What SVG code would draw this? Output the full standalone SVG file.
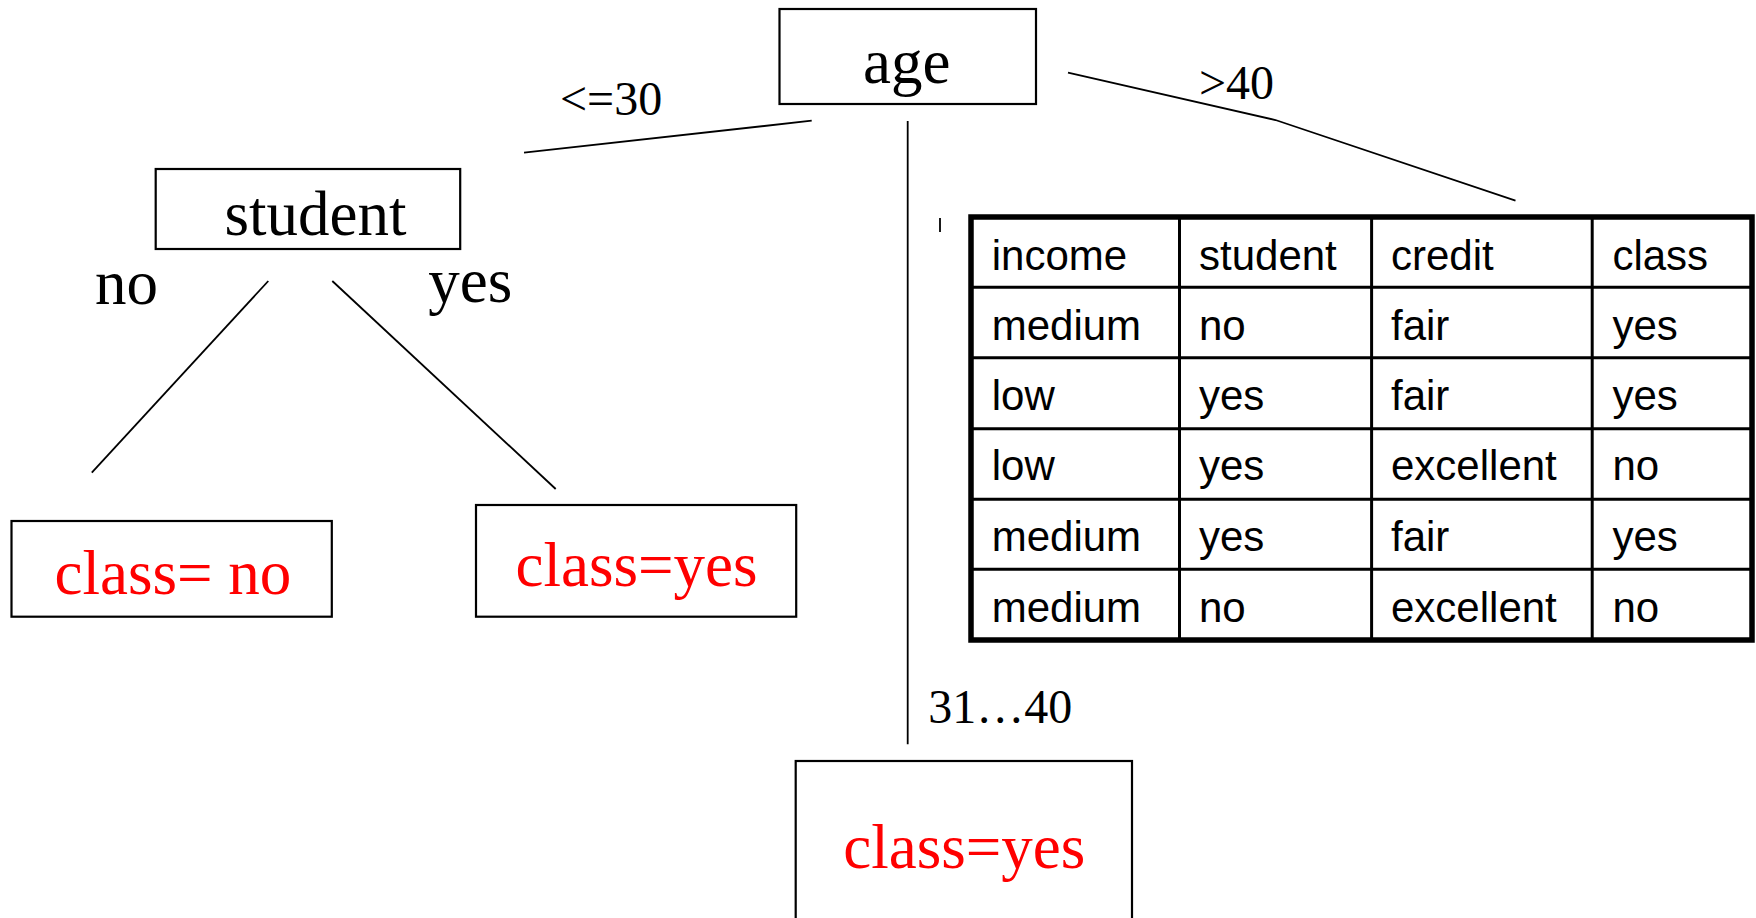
<svg xmlns="http://www.w3.org/2000/svg" width="1756" height="918" viewBox="0 0 1756 918">
<style>
.box{fill:#fff;stroke:#000;stroke-width:2.2}
.edge{fill:none;stroke:#000;stroke-width:1.8}
.node{font-family:"Liberation Serif","Times New Roman",serif;font-size:63px;fill:#000}
.leaf{font-family:"Liberation Serif","Times New Roman",serif;font-size:63px;fill:#ff0000}
.lbl{font-family:"Liberation Serif","Times New Roman",serif;font-size:48px;fill:#000}
.cell{font-family:"Liberation Sans",Arial,sans-serif;font-size:42px;fill:#000}
.grid{stroke:#000;stroke-width:3;fill:none}
</style>
<rect width="1756" height="918" fill="#fff"/>
<g id="connectors">
<line class="edge" x1="811.7" y1="120.7" x2="524" y2="152.7"/>
<line class="edge" x1="907.7" y1="121" x2="907.7" y2="744.3"/>
<polyline class="edge" points="1068,72.7 1275.5,120 1515.5,200.7"/>
<line class="edge" x1="268.3" y1="281" x2="91.8" y2="472.7"/>
<line class="edge" x1="332.3" y1="281" x2="555.7" y2="489"/>
<line class="edge" x1="940" y1="218" x2="940" y2="232"/>
<text class="lbl" x="560" y="115">&lt;=30</text>
<text class="lbl" x="1199" y="99.3">&gt;40</text>
<text class="lbl" x="928.3" y="723.3">31…40</text>
<text class="node" x="95" y="304">no</text>
<text class="node" x="428.3" y="301.7">yes</text>
</g>
<g id="age">
<rect class="box" x="779.5" y="9" width="256.5" height="95"/>
<text class="node" x="863" y="82.7" font-size="64">age</text>
</g>
<g id="student">
<rect class="box" x="155.7" y="169" width="304.5" height="80"/>
<text class="node" x="224.5" y="235">student</text>
</g>
<g id="leaf-no">
<rect class="box" x="11.5" y="521" width="320.3" height="95.7"/>
<text class="leaf" x="54.5" y="594">class= no</text>
</g>
<g id="leaf-yes">
<rect class="box" x="476" y="505" width="320.2" height="111.7"/>
<text class="leaf" x="515.5" y="585.7">class=yes</text>
</g>
<g id="leaf-mid">
<rect class="box" x="795.7" y="761" width="336.3" height="170"/>
<text class="leaf" x="843.3" y="867.7">class=yes</text>
</g>
<g id="table">
<g class="grid">
<line x1="971" y1="287.3" x2="1753" y2="287.3"/>
<line x1="971" y1="357.7" x2="1753" y2="357.7"/>
<line x1="971" y1="428.7" x2="1753" y2="428.7"/>
<line x1="971" y1="499.3" x2="1753" y2="499.3"/>
<line x1="971" y1="569.3" x2="1753" y2="569.3"/>
<line x1="1179.5" y1="217" x2="1179.5" y2="640"/>
<line x1="1371.6" y1="217" x2="1371.6" y2="640"/>
<line x1="1592.2" y1="217" x2="1592.2" y2="640"/>
</g>
<rect x="971" y="217" width="781" height="423" fill="none" stroke="#000" stroke-width="5.5"/>
<g transform="translate(0,1.5)">
<text class="cell" x="991.7" y="268.7">income</text>
<text class="cell" x="1199" y="268.7">student</text>
<text class="cell" x="1391" y="268.7">credit</text>
<text class="cell" x="1612.4" y="268.7">class</text>
<text class="cell" x="991.7" y="338.3">medium</text>
<text class="cell" x="1199" y="338.3">no</text>
<text class="cell" x="1391" y="338.3">fair</text>
<text class="cell" x="1612.4" y="338.3">yes</text>
<text class="cell" x="991.7" y="408.3">low</text>
<text class="cell" x="1199" y="408.3">yes</text>
<text class="cell" x="1391" y="408.3">fair</text>
<text class="cell" x="1612.4" y="408.3">yes</text>
<text class="cell" x="991.7" y="478.7">low</text>
<text class="cell" x="1199" y="478.7">yes</text>
<text class="cell" x="1391" y="478.7">excellent</text>
<text class="cell" x="1612.4" y="478.7">no</text>
<text class="cell" x="991.7" y="549.3">medium</text>
<text class="cell" x="1199" y="549.3">yes</text>
<text class="cell" x="1391" y="549.3">fair</text>
<text class="cell" x="1612.4" y="549.3">yes</text>
<text class="cell" x="991.7" y="620">medium</text>
<text class="cell" x="1199" y="620">no</text>
<text class="cell" x="1391" y="620">excellent</text>
<text class="cell" x="1612.4" y="620">no</text>
</g>
</g>
</svg>
